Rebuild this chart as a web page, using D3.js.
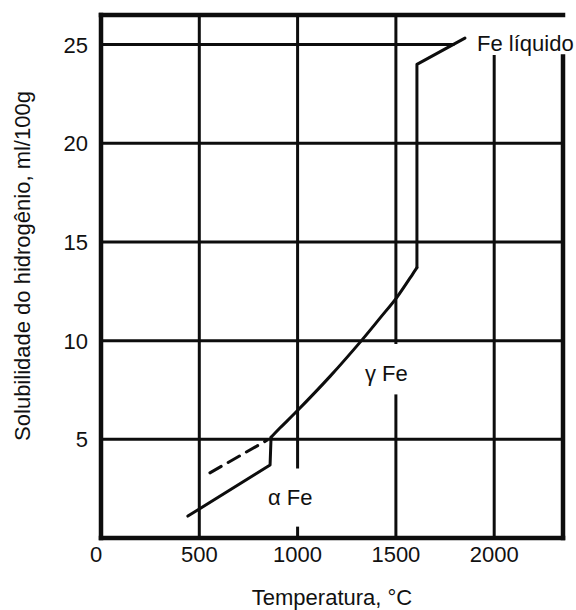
<!DOCTYPE html>
<html>
<head>
<meta charset="utf-8">
<script src="https://cdn.jsdelivr.net/npm/d3@7"></script>
<style>
  html, body { margin: 0; padding: 0; background: #fff; }
  svg { display: block; }
  text { font-family: "Liberation Sans", Arial, sans-serif; fill: #111; }
</style>
</head>
<body>
<svg id="chart" width="576" height="610"></svg>
<script>
// ---- data ----
const xTicks = [0, 500, 1000, 1500, 2000];
const yTicks = [5, 10, 15, 20, 25];
const xTickLabels = ["0", "500", "1000", "1500", "2000"];
const yTickLabels = ["5", "10", "15", "20", "25"];

// solid curve: alpha Fe segment (temperature °C, solubility ml/100g)
const alphaT = [442, 860, 865];
const alphaV = [1.11, 3.70, 5.10];
// gamma Fe segment (smooth)
const gammaT = [865, 910, 987, 1165, 1328, 1419, 1506, 1587, 1607];
const gammaV = [5.10, 5.57, 6.33, 8.19, 10.04, 11.14, 12.21, 13.40, 13.70];
// jump to liquid and liquid segment
const liquidT = [1607, 1607, 1851];
const liquidV = [13.7, 24.0, 25.33];
// dashed (metastable) line
const dashT = [554, 844];
const dashV = [3.30, 4.95];

const xTitle = "Temperatura, °C";
const yTitle = "Solubilidade do hidrogênio, ml/100g";

// ---- layout ----
const svg = d3.select("#chart");
const x = d3.scaleLinear().domain([0, 2350]).range([101, 563]);
const y = d3.scaleLinear().domain([0, 26.5]).range([538, 15]);
const xMin = 0, xMax = 2350, yMin = 0, yMax = 26.5;

const g = svg.append("g");
const gridW = 3, frameW = 4.5, curveW = 3;
const ink = "#0d0d0d";

function seg(x1, y1, x2, y2, w) {
  g.append("line")
    .attr("x1", x(x1)).attr("y1", y(y1))
    .attr("x2", x(x2)).attr("y2", y(y2))
    .attr("stroke", ink).attr("stroke-width", w)
    .attr("stroke-linecap", "square");
}

// horizontal gridlines
yTicks.forEach(v => {
  const xEnd = v === 25 ? 1790 : xMax;
  seg(xMin, v, xEnd, v, gridW);
});

// vertical gridlines (with gaps where labels sit)
const vGridSegments = {
  500: [[yMin, yMax]],
  1000: [[yMin, 0.5], [3.6, yMax]],
  1500: [[yMin, 7.2], [9.9, yMax]],
  2000: [[yMin, 24.4]]
};
xTicks.filter(t => t > 0).forEach(t => {
  vGridSegments[t].forEach(([a, b]) => seg(t, a, t, b, gridW));
});

// frame
seg(xMin, yMin, xMax, yMin, frameW);      // bottom
seg(xMin, yMin, xMin, yMax, frameW);      // left
seg(xMin, yMax, xMax, yMax, frameW);      // top
seg(xMax, yMin, xMax, 24.4, frameW);      // right (open near label)

// curves
const zip = (a, b) => a.map((t, i) => [t, b[i]]);
const lineLin = d3.line().x(d => x(d[0])).y(d => y(d[1]));
const lineSmooth = d3.line().x(d => x(d[0])).y(d => y(d[1])).curve(d3.curveCatmullRom.alpha(0.5));

function path(gen, data, dash) {
  g.append("path").datum(data)
    .attr("d", gen)
    .attr("fill", "none")
    .attr("stroke", ink)
    .attr("stroke-width", curveW)
    .attr("stroke-linejoin", "round")
    .attr("stroke-linecap", "round")
    .attr("stroke-dasharray", dash || null);
}
path(lineLin, zip(alphaT, alphaV));
path(lineSmooth, zip(gammaT, gammaV));
path(lineLin, zip(liquidT, liquidV));
path(lineLin, zip(dashT, dashV), "13,8");

// tick labels
const fs = 22;
xTicks.forEach((t, i) => {
  g.append("text")
    .attr("x", x(t) + (t === 0 ? -5 : 0))
    .attr("y", 562)
    .attr("text-anchor", "middle")
    .attr("font-size", fs)
    .text(xTickLabels[i]);
});
yTicks.forEach((v, i) => {
  g.append("text")
    .attr("x", 88)
    .attr("y", y(v))
    .attr("dy", "0.36em")
    .attr("text-anchor", "end")
    .attr("font-size", fs)
    .text(yTickLabels[i]);
});

// phase labels
g.append("text").attr("x", 477).attr("y", 51).attr("font-size", fs).text("Fe líquido");
g.append("text").attr("x", 365).attr("y", 381).attr("font-size", fs).text("γ Fe");
g.append("text").attr("x", 268).attr("y", 505).attr("font-size", fs).text("α Fe");

// axis titles
g.append("text")
  .attr("x", (x(xMin) + x(xMax)) / 2).attr("y", 605)
  .attr("text-anchor", "middle")
  .attr("font-size", fs)
  .text(xTitle);
g.append("text")
  .attr("transform", "translate(30,266) rotate(-90)")
  .attr("text-anchor", "middle")
  .attr("font-size", fs)
  .text(yTitle);
</script>
</body>
</html>
